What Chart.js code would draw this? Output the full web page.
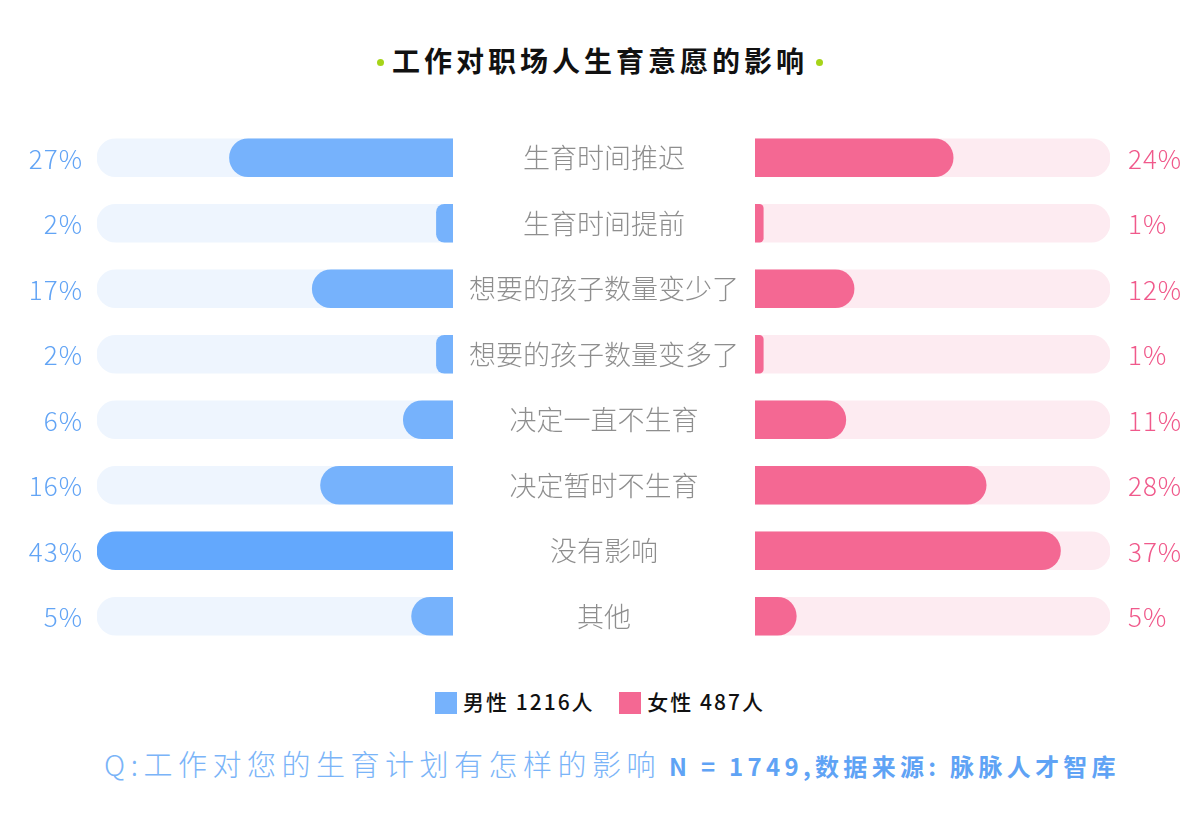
<!DOCTYPE html>
<html>
<head>
<meta charset="utf-8">
<script src="https://cdn.jsdelivr.net/npm/chart.js@4/dist/chart.umd.min.js"></script>
<style>
  body { margin: 0; width: 1200px; height: 820px; background: #fff; font-family: "Noto Sans CJK SC", "Noto Sans", sans-serif; position: relative; overflow: hidden; }
  #titulo { position: absolute; top: 38px; left: 0; width: 1200px; text-align: center; font-size: 28px; font-weight: 700; letter-spacing: 4px; color: #111; line-height: 44px; }
  #titulo .dot { display: inline-block; width: 7px; height: 7px; border-radius: 50%; background: #a6d418; vertical-align: middle; margin: 0 8px 4px 8px; }
  #izq { position: absolute; left: 0; top: 125px; width: 453px; height: 524px; }
  #der { position: absolute; left: 453px; top: 125px; width: 747px; height: 524px; }
  #leyenda { position: absolute; top: 686px; left: 0; width: 1200px; text-align: center; font-size: 21px; font-weight: 500; color: #111; letter-spacing: 2px; }
  #leyenda span.sq { display: inline-block; width: 22px; height: 22px; vertical-align: -4px; margin-right: 6px; }
  #leyenda .item { margin: 0 9px; }
  #pie { position: absolute; top: 742px; left: 12px; width: 1200px; text-align: center; white-space: nowrap; }
  #pie .q { font-size: 29px; font-weight: 300; color: #7ab4f8; letter-spacing: 5.5px; }
  #pie .n { font-size: 24px; font-weight: 700; color: #5fa3f5; letter-spacing: 4.3px; margin-left: 8px; }
</style>
</head>
<body>
<div id="titulo"><span class="dot"></span>工作对职场人生育意愿的影响<span class="dot"></span></div>
<div id="izq"><canvas id="chartIzq"></canvas></div>
<div id="der"><canvas id="chartDer"></canvas></div>
<div id="leyenda">
  <span class="item"><span class="sq" style="background:#76b2fc"></span>男性 1216人</span>
  <span class="item"><span class="sq" style="background:#f46893"></span>女性 487人</span>
</div>
<div id="pie"><span class="q">Q:工作对您的生育计划有怎样的影响</span><span class="n">N = 1749,数据来源: 脉脉人才智库</span></div>

<script>
const categorias = ["生育时间推迟", "生育时间提前", "想要的孩子数量变少了", "想要的孩子数量变多了", "决定一直不生育", "决定暂时不生育", "没有影响", "其他"]
const hombres = [27, 2, 17, 2, 6, 16, 43, 5]
const mujeres = [24, 1, 12, 1, 11, 28, 37, 5]
const maximo = 43
const fondo = categorias.map(() => maximo)

// etiquetas de porcentaje al lado de cada barra
const etiquetas = {
  id: 'etiquetas',
  afterDatasetsDraw(chart, args, opts) {
    const ctx = chart.ctx
    const meta = chart.getDatasetMeta(0)
    ctx.save()
    ctx.font = '300 26px "Noto Sans CJK SC", "Noto Sans", sans-serif'
    ctx.letterSpacing = '1px'
    ctx.fillStyle = opts.color
    ctx.textBaseline = 'middle'
    ctx.textAlign = opts.lado === 'izq' ? 'right' : 'left'
    const x = opts.lado === 'izq' ? chart.chartArea.left - 14 : chart.chartArea.right + 18
    meta.data.forEach((bar, i) => {
      ctx.fillText(chart.data.datasets[0].data[i] + '%', x, bar.y + 1)
    })
    ctx.restore()
  }
}

const barra = {
  barThickness: 38,
  borderRadius: 19,
  borderSkipped: 'start',
  grouped: false
}

const chartIzq = new Chart(document.getElementById('chartIzq'), {
  type: 'bar',
  data: {
    labels: categorias,
    datasets: [
      { ...barra, data: hombres, backgroundColor: ctx => ctx.raw === maximo ? '#63a8fd' : '#76b2fc' },
      { ...barra, data: fondo, backgroundColor: '#eef5fe' }
    ]
  },
  options: {
    indexAxis: 'y',
    responsive: true,
    maintainAspectRatio: false,
    animation: false,
    layout: { padding: { left: 97, right: 0, top: 0, bottom: 0 } },
    scales: {
      x: { display: false, reverse: true, min: 0, max: maximo },
      y: { display: false }
    },
    plugins: {
      legend: { display: false },
      tooltip: { enabled: false },
      etiquetas: { lado: 'izq', color: '#62a4f5' }
    }
  },
  plugins: [etiquetas]
})

const chartDer = new Chart(document.getElementById('chartDer'), {
  type: 'bar',
  data: {
    labels: categorias,
    datasets: [
      { ...barra, data: mujeres, backgroundColor: '#f46893' },
      { ...barra, data: fondo, backgroundColor: '#fdebf1' }
    ]
  },
  options: {
    indexAxis: 'y',
    responsive: true,
    maintainAspectRatio: false,
    animation: false,
    layout: { padding: { left: 0, right: 90, top: 0, bottom: 0 } },
    scales: {
      x: { display: false, min: 0, max: maximo },
      y: {
        afterFit: axis => {
          axis.width = 302
          axis.paddingTop = 0
          axis.paddingBottom = 0
        },
        grid: { display: false, drawTicks: false },
        border: { display: false },
        ticks: {
          crossAlign: 'center',
          padding: 16,
          color: '#8e8e8e',
          font: { family: '"Noto Sans CJK SC", "Noto Sans", sans-serif', size: 27, weight: '300' }
        }
      }
    },
    plugins: {
      legend: { display: false },
      tooltip: { enabled: false },
      etiquetas: { lado: 'der', color: '#f0598b' }
    }
  },
  plugins: [etiquetas]
})
</script>
</body>
</html>
